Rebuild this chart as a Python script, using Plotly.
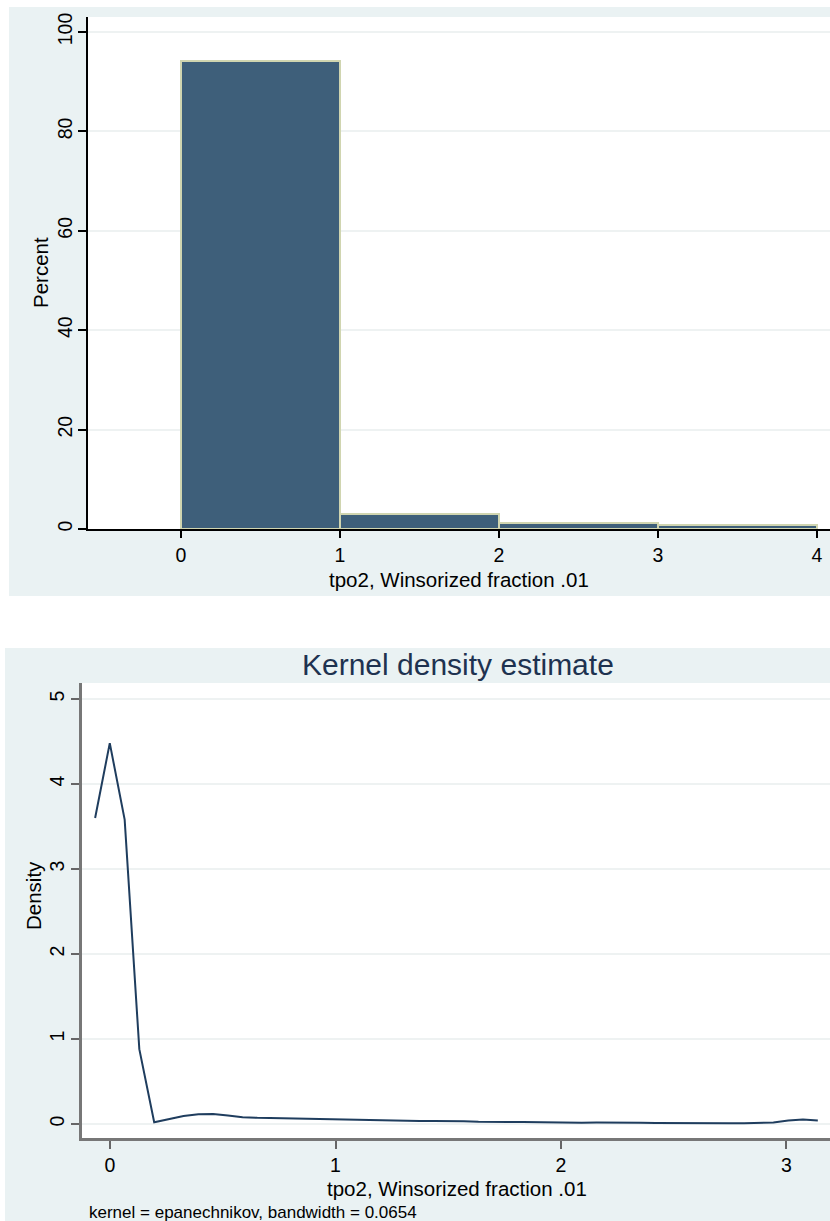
import plotly.graph_objects as go

# ---------------- data ----------------
bin_left = [0, 1, 2, 3]
bin_pct = [94.1, 3.0, 1.2, 0.8]
hist_xticks = [0, 1, 2, 3, 4]
hist_yticks = [0, 20, 40, 60, 80, 100]

kde_x = [-0.066, -0.001, 0.065, 0.130, 0.196, 0.261, 0.326, 0.392, 0.457, 0.523,
         0.588, 0.653, 0.719, 0.784, 0.850, 0.915, 0.980, 1.046, 1.111, 1.177,
         1.242, 1.307, 1.373, 1.438, 1.504, 1.569, 1.634, 1.700, 1.765, 1.831,
         1.896, 1.961, 2.027, 2.092, 2.158, 2.223, 2.288, 2.354, 2.419, 2.485,
         2.550, 2.615, 2.681, 2.746, 2.812, 2.877, 2.942, 3.008, 3.073, 3.139]
kde_y = [3.60, 4.48, 3.58, 0.88, 0.02, 0.06, 0.095, 0.115, 0.118, 0.10,
         0.08, 0.072, 0.068, 0.066, 0.064, 0.062, 0.060, 0.056, 0.050, 0.044,
         0.040, 0.036, 0.034, 0.034, 0.035, 0.032, 0.026, 0.022, 0.022, 0.024,
         0.020, 0.014, 0.012, 0.014, 0.016, 0.018, 0.018, 0.015, 0.012, 0.010,
         0.010, 0.011, 0.012, 0.010, 0.009, 0.010, 0.018, 0.040, 0.052, 0.040]
kde_xticks = [0, 1, 2, 3]
kde_yticks = [0, 1, 2, 3, 4, 5]

xtitle = "tpo2, Winsorized fraction .01"
note = "kernel = epanechnikov, bandwidth = 0.0654"

# ---------------- layout helpers ----------------
W, H = 830, 1221
def px(x):
    return x / W
def py(y):
    return (H - y) / H

FONT = "Liberation Sans, Arial, sans-serif"
BG = "#EAF2F3"
GRID = "#EEF2F2"

fig = go.Figure()

fig.add_trace(go.Bar(
    x=[b + 0.5 for b in bin_left], y=bin_pct, width=1,
    marker=dict(color="#3E5F7A", line=dict(color="#D0D5B0", width=2)),
    xaxis="x", yaxis="y", showlegend=False, hoverinfo="x+y"))

fig.add_trace(go.Scatter(
    x=kde_x, y=kde_y, mode="lines",
    line=dict(color="#1F3D5E", width=2),
    xaxis="x2", yaxis="y2", showlegend=False))

tickfont = dict(family=FONT, size=19.5, color="#000000")

fig.update_layout(
    width=W, height=H,
    margin=dict(l=0, r=0, t=0, b=0),
    paper_bgcolor="white", plot_bgcolor="rgba(0,0,0,0)",
    bargap=0,
    xaxis=dict(domain=[px(88), px(830)], range=[-0.585, 4.082], anchor="y",
               tickvals=hist_xticks, ticks="outside", ticklen=7, tickwidth=1.5,
               tickcolor="#000", showline=True, linecolor="#000", linewidth=1.5,
               showgrid=False, zeroline=False, tickfont=tickfont,
               ticklabelstandoff=1, automargin=False),
    yaxis=dict(domain=[py(529), py(17)], range=[0, 103], anchor="x",
               tickvals=hist_yticks, ticks="outside", ticklen=8, tickwidth=1.5,
               tickcolor="#000", showline=True, linecolor="#000", linewidth=1.5,
               showgrid=True, gridcolor=GRID, gridwidth=1.5, zeroline=False,
               tickangle=-90, tickfont=tickfont, ticklabelstandoff=-2,
               automargin=False),
    xaxis2=dict(domain=[px(82), px(830)], range=[-0.1242, 3.193], anchor="y2",
                tickvals=kde_xticks, ticks="outside", ticklen=8, tickwidth=1.5,
                tickcolor="#666", showline=True, linecolor="#777", linewidth=2.5,
                showgrid=False, zeroline=False, tickfont=tickfont,
                ticklabelstandoff=0, automargin=False),
    yaxis2=dict(domain=[py(1138), py(683)], range=[-0.165, 5.188], anchor="x2",
                tickvals=kde_yticks, ticks="outside", ticklen=8, tickwidth=1.5,
                tickcolor="#666", showline=True, linecolor="#777", linewidth=2.5,
                showgrid=True, gridcolor=GRID, gridwidth=1.5, zeroline=False,
                tickangle=-90, tickfont=tickfont, ticklabelstandoff=-1,
                automargin=False),
)

shapes = [
    dict(type="rect", xref="paper", yref="paper", x0=px(9), x1=1, y0=py(596), y1=py(7),
         fillcolor=BG, line=dict(width=0), layer="below"),
    dict(type="rect", xref="paper", yref="paper", x0=px(5), x1=1, y0=0, y1=py(648),
         fillcolor=BG, line=dict(width=0), layer="below"),
    dict(type="rect", xref="paper", yref="paper", x0=px(88), x1=1, y0=py(529), y1=py(17),
         fillcolor="white", line=dict(width=0), layer="below"),
    dict(type="rect", xref="paper", yref="paper", x0=px(82), x1=1, y0=py(1138), y1=py(683),
         fillcolor="white", line=dict(width=0), layer="below"),
]
fig.update_layout(shapes=shapes)

ann = [
    dict(text="Percent", x=px(40), y=py(273), xref="paper", yref="paper",
         textangle=-90, showarrow=False, font=dict(family=FONT, size=20.5, color="#000"),
         xanchor="center", yanchor="middle"),
    dict(text=xtitle, x=px(459), y=py(579), xref="paper", yref="paper",
         showarrow=False, font=dict(family=FONT, size=20.5, color="#000"),
         xanchor="center", yanchor="middle"),
    dict(text="Kernel density estimate", x=px(458), y=py(664), xref="paper", yref="paper",
         showarrow=False, font=dict(family=FONT, size=30, color="#1E3250"),
         xanchor="center", yanchor="middle"),
    dict(text="Density", x=px(33), y=py(896), xref="paper", yref="paper",
         textangle=-90, showarrow=False, font=dict(family=FONT, size=20.5, color="#000"),
         xanchor="center", yanchor="middle"),
    dict(text=xtitle, x=px(457), y=py(1188), xref="paper", yref="paper",
         showarrow=False, font=dict(family=FONT, size=20.5, color="#000"),
         xanchor="center", yanchor="middle"),
    dict(text=note, x=px(87), y=py(1212), xref="paper", yref="paper",
         showarrow=False, font=dict(family=FONT, size=17, color="#000"),
         xanchor="left", yanchor="middle"),
]
fig.update_layout(annotations=ann)

fig.write_html("out.html",
               config={"displayModeBar": False},
               post_script="document.body.style.margin='0px';"
                           "document.body.style.overflow='hidden';")
